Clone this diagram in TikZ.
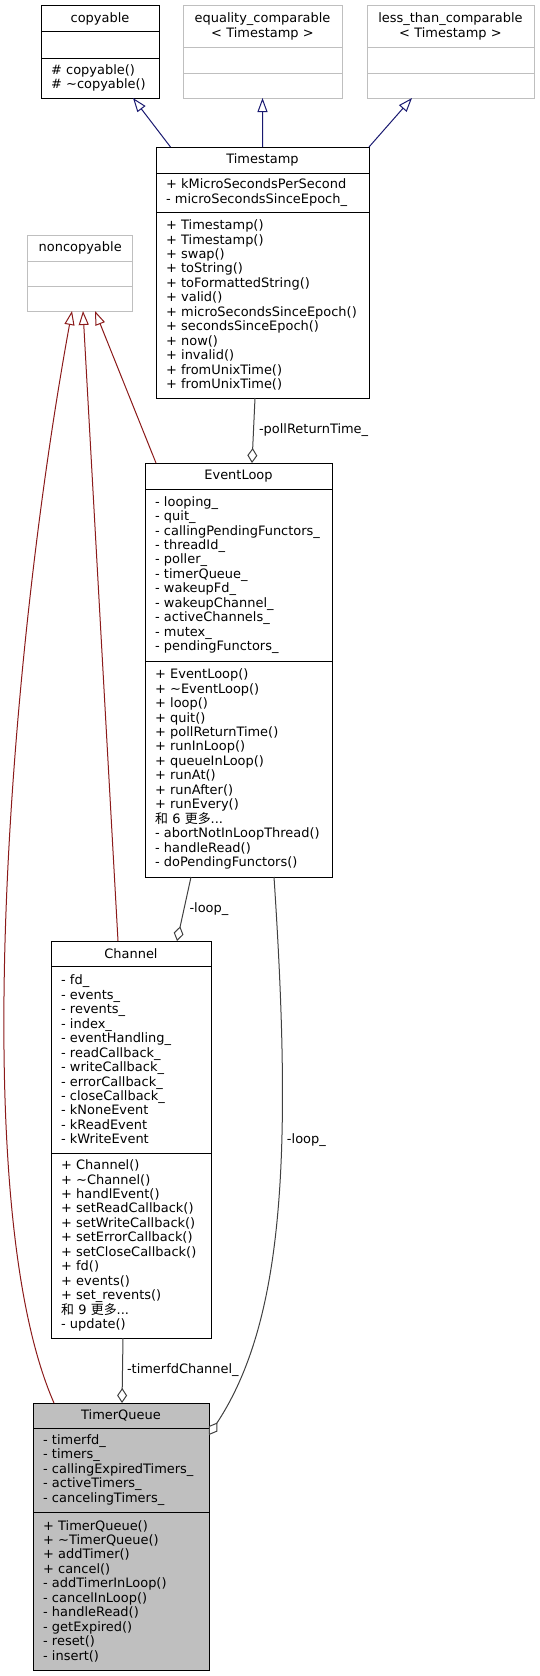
\documentclass[tikz,border=0pt]{standalone}
\usepackage{fontspec}
\setmainfont{DejaVu Sans}
\newfontfamily\cjk{Noto Sans CJK SC}
\usetikzlibrary{positioning}
\usetikzlibrary{arrows.meta}
\definecolor{grey75}{HTML}{BFBFBF}
\definecolor{grey25}{HTML}{404040}
\definecolor{midnightblue}{HTML}{191970}
\definecolor{firebrick4}{HTML}{8B1A1A}
\tikzset{x=1bp, y=-1bp,
    every node/.style={
        font=\fontsize{13}{14.5}\selectfont},
    hdr/.style={
        draw=black,
        fill=white,
        line width=1bp,
        inner xsep=10bp,
        inner ysep=0pt,
        outer sep=0pt,
        align=center},
    sec/.style={hdr, align=left},
    ghost/.style={draw=grey75},
    focus/.style={fill=grey75},
    lbl/.style={inner sep=0pt},
    pub/.style={
        draw=midnightblue,
        line width=1bp,
        -{Triangle[open, length=14bp, width=10bp]}},
    priv/.style={pub, draw=firebrick4},
    member/.style={
        draw=grey25,
        line width=1bp,
        -{Diamond[open, length=15bp, width=10bp]}}}

\begin{document}
\begin{tikzpicture}
    \useasboundingbox (0,0) rectangle (540,1676);

    % base classes of Timestamp
    \node[hdr, text width=98bp, minimum height=26bp, anchor=north west] (cp) at (41,6) {copyable};
    \node[sec, text width=98bp, minimum height=26bp, below=0pt of cp] (cp-a) {};
    \node[sec, text width=98bp, minimum height=40bp, below=0pt of cp-a] (cp-o) {\#~copyable()\\\#~\textasciitilde copyable()};

    \node[hdr, ghost, text width=139bp, minimum height=41bp, anchor=north west] (eq) at (183,6) {equality\_comparable\\\textless~Timestamp~\textgreater};
    \node[sec, ghost, text width=139bp, minimum height=26bp, below=0pt of eq] (eq-a) {};
    \node[sec, ghost, text width=139bp, minimum height=25bp, below=0pt of eq-a] (eq-o) {};

    \node[hdr, ghost, text width=147bp, minimum height=41bp, anchor=north west] (lt) at (367,6) {less\_than\_comparable\\\textless~Timestamp~\textgreater};
    \node[sec, ghost, text width=147bp, minimum height=26bp, below=0pt of lt] (lt-a) {};
    \node[sec, ghost, text width=147bp, minimum height=25bp, below=0pt of lt-a] (lt-o) {};

    % Timestamp
    \node[hdr, text width=193bp, minimum height=26bp, anchor=north west] (ts) at (156,147) {Timestamp};
    \node[sec, text width=193bp, minimum height=39bp, below=0pt of ts] (ts-a) {+~kMicroSecondsPerSecond\\-~microSecondsSinceEpoch\_};
    \node[sec, text width=193bp, minimum height=186bp, below=0pt of ts-a] (ts-o) {+~Timestamp()\\+~Timestamp()\\+~swap()\\+~toString()\\+~toFormattedString()\\+~valid()\\+~microSecondsSinceEpoch()\\+~secondsSinceEpoch()\\+~now()\\+~invalid()\\+~fromUnixTime()\\+~fromUnixTime()};

    % noncopyable
    \node[hdr, ghost, text width=85bp, minimum height=26bp, anchor=north west] (nc) at (27.7,235) {noncopyable};
    \node[sec, ghost, text width=85bp, minimum height=25bp, below=0pt of nc] (nc-a) {};
    \node[sec, ghost, text width=85bp, minimum height=25bp, below=0pt of nc-a] (nc-o) {};

    % EventLoop
    \node[hdr, text width=167bp, minimum height=26bp, anchor=north west] (el) at (145,463) {EventLoop};
    \node[sec, text width=167bp, minimum height=172bp, below=0pt of el] (el-a) {-~looping\_\\-~quit\_\\-~callingPendingFunctors\_\\-~threadId\_\\-~poller\_\\-~timerQueue\_\\-~wakeupFd\_\\-~wakeupChannel\_\\-~activeChannels\_\\-~mutex\_\\-~pendingFunctors\_};
    \node[sec, text width=167bp, minimum height=216bp, below=0pt of el-a] (el-o) {+~EventLoop()\\+~\textasciitilde EventLoop()\\+~loop()\\+~quit()\\+~pollReturnTime()\\+~runInLoop()\\+~queueInLoop()\\+~runAt()\\+~runAfter()\\+~runEvery()\\{\cjk 和}~6~{\cjk 更多}...\\-~abortNotInLoopThread()\\-~handleRead()\\-~doPendingFunctors()};

    % Channel
    \node[hdr, text width=140bp, minimum height=25bp, anchor=north west] (ch) at (51,941) {Channel};
    \node[sec, text width=140bp, minimum height=187bp, below=0pt of ch] (ch-a) {-~fd\_\\-~events\_\\-~revents\_\\-~index\_\\-~eventHandling\_\\-~readCallback\_\\-~writeCallback\_\\-~errorCallback\_\\-~closeCallback\_\\-~kNoneEvent\\-~kReadEvent\\-~kWriteEvent};
    \node[sec, text width=140bp, minimum height=185bp, below=0pt of ch-a] (ch-o) {+~Channel()\\+~\textasciitilde Channel()\\+~handlEvent()\\+~setReadCallback()\\+~setWriteCallback()\\+~setErrorCallback()\\+~setCloseCallback()\\+~fd()\\+~events()\\+~set\_revents()\\{\cjk 和}~9~{\cjk 更多}...\\-~update()};

    % TimerQueue
    \node[hdr, focus, text width=156bp, minimum height=25bp, anchor=north west] (tq) at (33,1403) {TimerQueue};
    \node[sec, focus, text width=156bp, minimum height=84bp, below=0pt of tq] (tq-a) {-~timerfd\_\\-~timers\_\\-~callingExpiredTimers\_\\-~activeTimers\_\\-~cancelingTimers\_};
    \node[sec, focus, text width=156bp, minimum height=158bp, below=0pt of tq-a] (tq-o) {+~TimerQueue()\\+~\textasciitilde TimerQueue()\\+~addTimer()\\+~cancel()\\-~addTimerInLoop()\\-~cancelInLoop()\\-~handleRead()\\-~getExpired()\\-~reset()\\-~insert()};

    % inheritance
    \draw[pub] ([xshift=14.5bp]ts.north west) -- ([xshift=92bp]cp-o.south west);
    \draw[pub] (ts.north) -- (eq-o.south);
    \draw[pub] (ts.north east) -- ([xshift=45bp]lt-o.south west);
    \draw[priv] ([xshift=11bp]el.north west) -- ([xshift=67.3bp]nc-o.south west);
    \draw[priv] ([xshift=67bp]ch.north west) -- ([xshift=55.3bp]nc-o.south west);
    \draw[priv] ([xshift=21bp]tq.north west) .. controls (-35,1200) and (10,650) .. ([xshift=44.3bp]nc-o.south west);

    % members
    \draw[member] ([xshift=99bp]ts-o.south west) -- node[lbl, right=5bp] {-pollReturnTime\_} ([xshift=107bp]el.north west);
    \draw[member] ([xshift=46bp]el-o.south west) -- node[lbl, right=5bp] {-loop\_} ([xshift=126bp]ch.north west);
    \draw[member] ([xshift=72bp]ch-o.south west) -- node[lbl, right=4bp] {-timerfdChannel\_} ([xshift=89bp]tq.north west);
    \draw[member] ([xshift=129bp]el-o.south west) .. controls (292,1150) and (285,1320) .. node[lbl, pos=0.37, right=5bp] {-loop\_} ([yshift=-32bp]tq.north east);
\end{tikzpicture}
\end{document}
